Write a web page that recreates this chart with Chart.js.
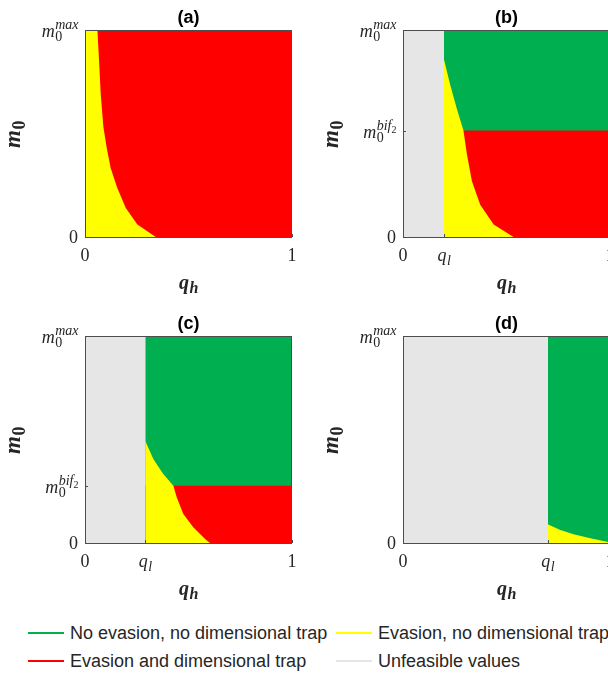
<!DOCTYPE html>
<html lang="en">
<head>
    <meta charset="UTF-8">
    <title>Evasion / dimensional trap regions</title>
    <script src="https://cdn.jsdelivr.net/npm/chart.js"></script>
    <style>
        body { margin: 0; width: 608px; height: 673px; overflow: hidden; background: #fff; position: relative; }
        .panel { position: absolute; width: 304px; height: 300px; }
        .leg { position: absolute; font-family: "Liberation Sans", Arial, sans-serif; font-size: 18px; line-height: 22px; color: #262626; white-space: nowrap; }
        .legline { position: absolute; height: 2px; width: 36px; }
    </style>
</head>
<body>
    <div class="panel" style="left:0;top:0"><canvas id="pa" width="304" height="300"></canvas></div>
    <div class="panel" style="left:318px;top:0"><canvas id="pb" width="304" height="300"></canvas></div>
    <div class="panel" style="left:0;top:306px"><canvas id="pc" width="304" height="300"></canvas></div>
    <div class="panel" style="left:318px;top:306px"><canvas id="pd" width="304" height="300"></canvas></div>
    <div id="legend"></div>

    <script>
        // region colours
        const GREEN = '#00b050', YELLOW = '#ffff00', RED = '#ff0000', GRAY = '#e6e6e6';
        const SERIF = '"Liberation Serif", "DejaVu Serif", serif';

        const panelIds = ['pa', 'pb', 'pc', 'pd'];
        const panelTitles = ['(a)', '(b)', '(c)', '(d)'];
        // q_l: left edge of the feasible region
        const qLow = [0, 0.198, 0.291, 0.699];
        // m0^bif2: red below, green above (1 = all red, 0 = no red)
        const mBif = [1, 0.514, 0.277, 0];

        // boundary of the yellow region (evasion, no trap)
        const yellowQ = [
            [0, 0.06, 0.068, 0.076, 0.089, 0.105, 0.124, 0.156, 0.197, 0.253, 0.342],
            [0.198, 0.228, 0.259, 0.292, 0.309, 0.333, 0.373, 0.438, 0.534],
            [0.291, 0.33, 0.378, 0.427, 0.443, 0.475, 0.523, 0.58, 0.604],
            [0.699, 0.76, 0.824, 0.905, 0.985, 1]
        ];
        const yellowM = [
            [1, 1, 0.85, 0.69, 0.53, 0.43, 0.333, 0.237, 0.14, 0.06, 0],
            [0.857, 0.736, 0.623, 0.514, 0.398, 0.269, 0.156, 0.06, 0],
            [0.494, 0.406, 0.333, 0.277, 0.221, 0.14, 0.076, 0.019, 0],
            [0.09, 0.063, 0.042, 0.023, 0.006, 0.003]
        ];

        // tick labels: [base, sub, sup, supSub]
        const xTickLabels = [
            [['0'], ['1']],
            [['0'], ['q', 'l'], ['1']],
            [['0'], ['q', 'l'], ['1']],
            [['0'], ['q', 'l'], ['1']]
        ];
        const yTickLabels = [
            [['0'], ['m', '0', 'max']],
            [['0'], ['m', '0', 'bif', '2'], ['m', '0', 'max']],
            [['0'], ['m', '0', 'bif', '2'], ['m', '0', 'max']],
            [['0'], ['m', '0', 'max']]
        ];
        const xTickValues = [[0, 1], [0, 0.198, 1], [0, 0.291, 1], [0, 0.699, 1]];
        const yTickValues = [[0, 1], [0, 0.514, 1], [0, 0.277, 1], [0, 1]];

        const legendItems = [
            { label: 'No evasion, no dimensional trap', color: GREEN },
            { label: 'Evasion, no dimensional trap', color: YELLOW },
            { label: 'Evasion and dimensional trap', color: RED },
            { label: 'Unfeasible values', color: GRAY }
        ];

        function isDigit(s) { return /^[0-9]+$/.test(s); }

        // draw base_sub^{sup_supSub}, LaTeX-ish
        function mathText(ctx, parts, x, y, align, size, bold) {
            const [base, sub, sup, supSub] = parts;
            const b = bold ? 'bold ' : '';
            const small = Math.round(size * 0.78);
            const tiny = Math.round(size * 0.58);
            const fontFor = (s, sz) => b + (isDigit(s) ? '' : 'italic ') + sz + 'px ' + SERIF;

            ctx.font = fontFor(base, size);
            const bw = ctx.measureText(base).width;
            let subW = 0, supW = 0, ssW = 0;
            if (sub) { ctx.font = fontFor(sub, small); subW = ctx.measureText(sub).width; }
            if (sup) { ctx.font = fontFor(sup, small); supW = ctx.measureText(sup).width; }
            if (supSub) { ctx.font = fontFor(supSub, tiny); ssW = ctx.measureText(supSub).width; }
            const total = bw + Math.max(subW, supW + ssW);
            let x0 = x;
            if (align === 'right') x0 = x - total;
            else if (align === 'center') x0 = x - total / 2;

            ctx.textAlign = 'left';
            ctx.textBaseline = 'alphabetic';
            ctx.font = fontFor(base, size);
            ctx.fillText(base, x0, y);
            const xs = x0 + bw + (isDigit(base) ? 0 : 0.5);
            if (sub) { ctx.font = fontFor(sub, small); ctx.fillText(sub, xs, y + size * 0.22); }
            if (sup) {
                ctx.font = fontFor(sup, small);
                const ys = y - size * 0.45;
                ctx.fillText(sup, xs, ys);
                if (supSub) { ctx.font = fontFor(supSub, tiny); ctx.fillText(supSub, xs + supW, ys + size * 0.18); }
            }
        }

        const axisDecor = {
            id: 'axisDecor',
            afterDraw(chart) {
                const p = chart.options.plugins.axisDecor;
                const { ctx, chartArea: a, scales } = chart;
                ctx.save();
                // box
                ctx.strokeStyle = '#4d4d4d';
                ctx.lineWidth = 1;
                ctx.strokeRect(a.left + 0.5, a.top + 0.5, a.right - a.left - 1, a.bottom - a.top);
                ctx.fillStyle = '#262626';

                // x ticks
                p.xValues.forEach((v, i) => {
                    const px = scales.x.getPixelForValue(v);
                    ctx.beginPath();
                    ctx.moveTo(Math.round(px) + 0.5, a.bottom);
                    ctx.lineTo(Math.round(px) + 0.5, a.bottom - 3);
                    ctx.stroke();
                    mathText(ctx, p.xLabels[i], px, a.bottom + 24, 'center', 18, false);
                });
                // y ticks
                p.yValues.forEach((v, i) => {
                    const py = scales.y.getPixelForValue(v);
                    ctx.beginPath();
                    ctx.moveTo(a.left, Math.round(py) + 0.5);
                    ctx.lineTo(a.left + 3, Math.round(py) + 0.5);
                    ctx.stroke();
                    const lab = p.yLabels[i];
                    const off = lab.length > 1 ? 7 : 6;
                    mathText(ctx, lab, a.left - 7, py + off, 'right', 18, false);
                });

                // title
                ctx.font = 'bold 18px "Liberation Sans", Arial, sans-serif';
                ctx.textAlign = 'center';
                ctx.textBaseline = 'alphabetic';
                ctx.fillStyle = '#000';
                const cx = (a.left + a.right) / 2;
                ctx.fillText(p.title, cx, a.top - 7);

                // axis labels
                ctx.fillStyle = '#262626';
                mathText(ctx, ['q', 'h'], cx, a.bottom + 52, 'center', 20, true);
                ctx.translate(a.left - 65, (a.top + a.bottom) / 2 + 1);
                ctx.rotate(-Math.PI / 2);
                mathText(ctx, ['m', '0'], 0, 0, 'center', 23, true);
                ctx.restore();
            }
        };

        function pts(qs, ms) { return qs.map((q, i) => ({ x: q, y: ms[i] })); }

        function area(data, color, order) {
            return {
                data: data,
                backgroundColor: color,
                borderColor: color,
                borderWidth: 0,
                pointRadius: 0,
                fill: 'start',
                tension: 0,
                order: order
            };
        }

        panelIds.forEach((id, k) => {
            const ql = qLow[k];
            const datasets = [];
            datasets.push(area(pts(yellowQ[k], yellowM[k]), YELLOW, 1));
            if (mBif[k] > 0) datasets.push(area(pts([ql, 1], [mBif[k], mBif[k]]), RED, 2));
            if (mBif[k] < 1) datasets.push(area(pts([ql, 1], [1, 1]), GREEN, 3));
            if (ql > 0) datasets.push(area(pts([0, ql], [1, 1]), GRAY, 4));

            new Chart(document.getElementById(id), {
                type: 'line',
                data: { datasets: datasets },
                options: {
                    responsive: false,
                    animation: false,
                    layout: { padding: { left: 85, top: 30, right: 12, bottom: 63 } },
                    scales: {
                        x: { type: 'linear', min: 0, max: 1, display: false },
                        y: { type: 'linear', min: 0, max: 1, display: false }
                    },
                    plugins: {
                        legend: { display: false },
                        tooltip: { enabled: false },
                        axisDecor: {
                            title: panelTitles[k],
                            xValues: xTickValues[k], xLabels: xTickLabels[k],
                            yValues: yTickValues[k], yLabels: yTickLabels[k]
                        }
                    }
                },
                plugins: [axisDecor]
            });
        });

        // figure legend, two rows
        const legend = document.getElementById('legend');
        const legPos = [[28, 633], [336, 633], [28, 661], [336, 661]];
        legendItems.forEach((it, i) => {
            const [lx, ly] = legPos[i];
            const line = document.createElement('div');
            line.className = 'legline';
            line.style.left = lx + 'px';
            line.style.top = (ly - 1) + 'px';
            line.style.background = it.color;
            legend.appendChild(line);
            const txt = document.createElement('div');
            txt.className = 'leg';
            txt.style.left = (lx + 42) + 'px';
            txt.style.top = (ly - 11) + 'px';
            txt.textContent = it.label;
            legend.appendChild(txt);
        });
    </script>
</body>
</html>
